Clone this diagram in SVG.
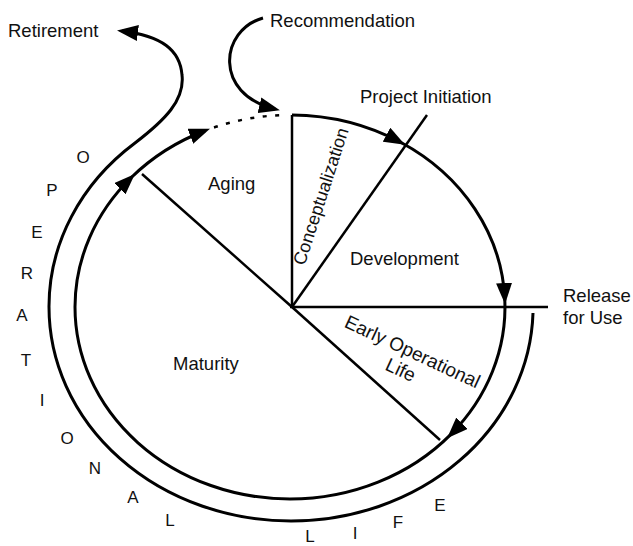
<svg xmlns="http://www.w3.org/2000/svg" width="633" height="546" viewBox="0 0 633 546">
<style>
text{font-family:"Liberation Sans",Arial,sans-serif;fill:#111;}
.lbl{font-size:18.5px;}
.let{font-size:17px;text-anchor:middle;}
.arc{fill:none;stroke:#000;stroke-width:3;}
.rad{fill:none;stroke:#000;stroke-width:2.5;}
.dot{fill:none;stroke:#000;stroke-width:2.5;stroke-dasharray:4 8.5;}
</style>
<defs>
<marker id="ah" markerUnits="userSpaceOnUse" viewBox="0 0 21 16" markerWidth="21" markerHeight="16" refX="16" refY="8" orient="auto"><path d="M0,0 L21,8 L0,16 z" fill="#000"/></marker>
</defs>
<rect width="633" height="546" fill="#fff"/>
<g id="connectors">
<line class="rad" x1="292" y1="307" x2="292" y2="115"/>
<line class="rad" x1="292" y1="307" x2="427" y2="115"/>
<line class="rad" x1="290" y1="307" x2="548" y2="307"/>
<line class="rad" x1="292" y1="307" x2="440" y2="440"/>
<line class="rad" x1="292" y1="307" x2="142" y2="174"/>
<path class="arc" marker-end="url(#ah)" d="M292,115 A215,192 0 0 1 400.6,142.3"/>
<path class="arc" marker-end="url(#ah)" d="M400.6,142.3 A215,192 0 0 1 504.8,299"/>
<path class="arc" marker-end="url(#ah)" d="M504.8,299 A215,192 0 0 1 450.6,434.6"/>
<path class="arc" marker-end="url(#ah)" d="M450.6,434.6 A215,192 0 0 1 290,499 A215,192 0 0 1 75,307 A215,192 0 0 1 131.3,177.5"/>
<path class="arc" marker-end="url(#ah)" d="M131.3,177.5 A215,192 0 0 1 205.3,130.5"/>
<path class="dot" d="M214,127.5 A215,192 0 0 1 282,115.1"/>
<path class="arc" marker-end="url(#ah)" d="M533,313 A242,214 0 0 1 291,521 A242,214 0 0 1 49,307 A242,214 0 0 1 135,143 C165,120 185,100 182,75 C180,50 162,36 122,31"/>
<path class="arc" marker-end="url(#ah)" d="M263,18 C220,30 213,94 275,109"/>
</g>
<g id="retirement"><text class="lbl" x="8" y="37">Retirement</text></g>
<g id="recommendation"><text class="lbl" x="270" y="27">Recommendation</text></g>
<g id="project-initiation"><text class="lbl" x="360" y="103">Project Initiation</text></g>
<g id="release"><text class="lbl" x="563" y="302">Release</text><text class="lbl" x="563" y="324">for Use</text></g>
<g id="aging"><text class="lbl" x="208" y="190">Aging</text></g>
<g id="development"><text class="lbl" x="350" y="265">Development</text></g>
<g id="maturity"><text class="lbl" x="173" y="370">Maturity</text></g>
<g id="conceptualization"><text class="lbl" style="font-size:18px" text-anchor="middle" transform="translate(326.7,198.2) rotate(-72)">Conceptualization</text></g>
<g id="early-operational-life"><text class="lbl" style="font-size:19px" text-anchor="middle" transform="translate(409.8,357.6) rotate(25)"><tspan x="0" y="0">Early Operational</tspan><tspan x="-3" y="21.5">Life</tspan></text></g>
<g id="operational-life">
<text class="let" x="83" y="163">O</text>
<text class="let" x="52" y="196">P</text>
<text class="let" x="37" y="238">E</text>
<text class="let" x="27" y="279">R</text>
<text class="let" x="22" y="321">A</text>
<text class="let" x="26" y="366">T</text>
<text class="let" x="42" y="406">I</text>
<text class="let" x="67" y="444">O</text>
<text class="let" x="95" y="474">N</text>
<text class="let" x="133" y="503">A</text>
<text class="let" x="170" y="526">L</text>
<text class="let" x="310" y="542">L</text>
<text class="let" x="355" y="539">I</text>
<text class="let" x="398" y="528">F</text>
<text class="let" x="440" y="511">E</text>
</g>
</svg>
